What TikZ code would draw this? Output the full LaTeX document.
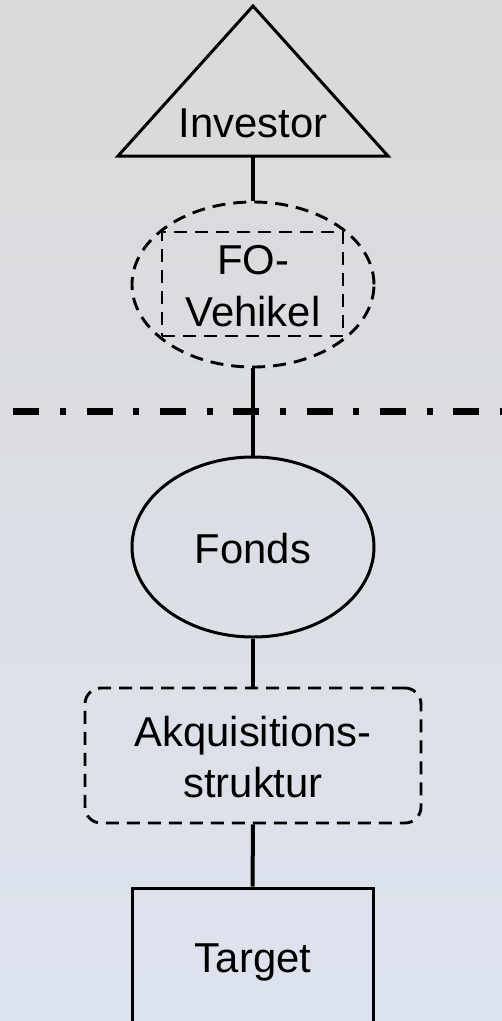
\documentclass[tikz,border=0pt]{standalone}
\usepackage{fontspec}
\setmainfont{Liberation Sans}
\usetikzlibrary{shapes.geometric}
\definecolor{bgtop}{RGB}{217,217,217}
\definecolor{bgbot}{RGB}{221,227,238}
\begin{document}
\begin{tikzpicture}[x=1pt,y=-1pt,
  outl/.style={draw=black, line width=3pt},
  dsh/.style={outl, line width=2.9pt, dash pattern=on 13pt off 8pt},
  conn/.style={draw=black, line width=4pt},
  lbl/.style={font=\fontsize{41.8}{50}\selectfont, inner sep=0pt, anchor=base, text=black},
  ]
\shade[top color=bgtop, bottom color=bgbot] (0,0) rectangle (502,1021);
\useasboundingbox (0,0) rectangle (502,1021);

% separator
\draw[black, line width=6.5pt, dash pattern=on 26pt off 20.7pt on 6pt off 20.6pt] (13.3,411.7) -- (540,411.7);

% Investor triangle
\draw[outl, line join=miter] (253,6) -- (388,156) -- (118,156) -- cycle;
\coordinate (invbase) at (253,156);
\node[lbl] (t-inv) at (253,137) {Investor};

% FO-Vehikel
\node[ellipse, dsh, minimum width=242pt, minimum height=165pt, inner sep=0pt] (fo) at (253,284.5) {};
\node[rectangle, dsh, minimum width=181pt, minimum height=104pt, inner sep=0pt] (fobox) at (252.5,284) {};
\node[lbl] (t-fo1) at (253,274) {FO-};
\node[lbl] (t-fo2) at (253,326) {Vehikel};

% Fonds
\node[ellipse, outl, minimum width=242pt, minimum height=180pt, inner sep=0pt] (fonds) at (253,547) {};
\node[lbl] (t-fonds) at (253,563) {Fonds};

% Akquisitionsstruktur
\node[rectangle, rounded corners=16pt, dsh, minimum width=336pt, minimum height=135pt, inner sep=0pt] (akq) at (253,755.5) {};
\node[lbl] (t-akq1) at (253,746) {Akquisitions-};
\node[lbl] (t-akq2) at (253,797) {struktur};

% Target
\node[rectangle, outl, minimum width=241pt, minimum height=138pt, inner sep=0pt] (target) at (252.5,957) {};
\node[lbl] (t-target) at (253,972) {Target};

% connectors
\draw[conn] (invbase) -- (fo.north);
\draw[conn] (fo.south) -- (fonds.north);
\draw[conn] (fonds.south) -- (akq.north);
\draw[conn] (akq.south) -- (target.north);
\end{tikzpicture}
\end{document}
